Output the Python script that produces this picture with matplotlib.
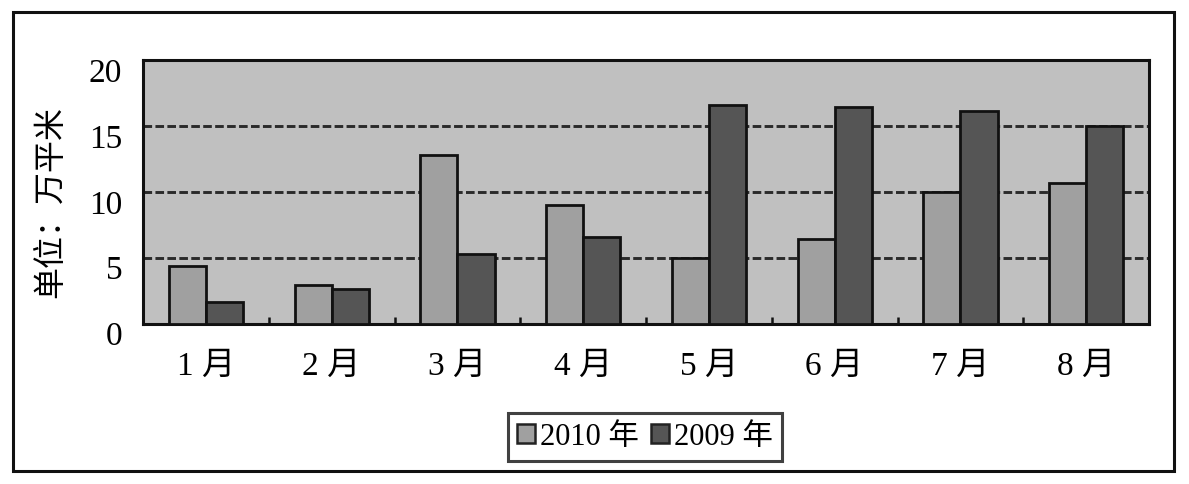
import matplotlib
matplotlib.use("Agg")
import matplotlib.pyplot as plt
import matplotlib.transforms as mtransforms
from matplotlib.patches import Patch, Rectangle
from matplotlib.font_manager import FontProperties
import numpy as np

plt.rcParams['lines.scale_dashes'] = False

months = ["1 月", "2 月", "3 月", "4 月", "5 月", "6 月", "7 月", "8 月"]
series_names = ["2010 年", "2009 年"]
values_2010 = [4.4, 2.9, 12.8, 9.0, 5.0, 6.4, 10.0, 10.7]
values_2009 = [1.6, 2.6, 5.3, 6.6, 16.6, 16.4, 16.1, 15.0]
yticks = [0, 5, 10, 15, 20]
ylabel = "单位：万平米"

c_bg = "#c0c0c0"
c_2010 = "#a0a0a0"
c_2009 = "#555555"

mixed = ['Liberation Serif', 'Noto Sans CJK SC']
fp_tick = FontProperties(family=mixed, size=24)
fp_leg = FontProperties(family=mixed, size=22)

fig = plt.figure(figsize=(11.89, 4.84), dpi=100)
ax = fig.add_axes([0.1203, 0.3316, 0.8461, 0.5444])
ax.set_facecolor(c_bg)

x = np.arange(len(months))
w = 0.295
ax.bar(x - w / 2, values_2010, width=w, color=c_2010, edgecolor="#111111", linewidth=2, zorder=3)
ax.bar(x + w / 2, values_2009, width=w, color=c_2009, edgecolor="#111111", linewidth=2, zorder=3)

for g in [5, 10, 15]:
    ax.axhline(g, color="#2a2a2a", linewidth=2.1, linestyle=(0, (6.2, 2.4)), zorder=1)

ax.set_xlim(-0.5, len(months) - 0.5)
ax.set_ylim(0, 20)
ax.set_xticks(x)
ax.set_xticklabels(months, fontproperties=fp_tick)
ax.set_xticks(np.arange(0.5, len(months) - 0.5, 1), minor=True)
ax.tick_params(axis='x', which='major', length=0, pad=20)
ax.tick_params(axis='x', which='minor', direction='in', length=5, width=1.8, color='#111111')
ax.set_yticks(yticks)
ax.set_yticklabels([str(t) for t in yticks], fontproperties=fp_tick)
ax.tick_params(axis='y', length=0, pad=15)
offset = mtransforms.ScaledTranslation(0, -10 / 100, fig.dpi_scale_trans)
for lab in ax.get_yticklabels():
    lab.set_transform(lab.get_transform() + offset)

for s in ax.spines.values():
    s.set_linewidth(2.2)
    s.set_color("#111111")

ax.set_ylabel(ylabel, fontproperties=FontProperties(family=['Noto Sans CJK SC'], size=23))
ax.yaxis.set_label_coords(-0.076, 0.46)

handles = [Patch(facecolor=c_2010, edgecolor="#222222", linewidth=1.8),
           Patch(facecolor=c_2009, edgecolor="#222222", linewidth=1.8)]
leg = fig.legend(handles, series_names, loc='center', bbox_to_anchor=(0.5425, 0.097),
                 ncol=2, prop=fp_leg, frameon=True, fancybox=False,
                 handlelength=0.6, handleheight=0.6, handletextpad=0.15,
                 columnspacing=0.4, borderpad=0.3, borderaxespad=0)
leg.get_frame().set_edgecolor("#111111")
leg.get_frame().set_linewidth(2.2)

fig.patches.append(Rectangle((0.0109, 0.0269), 0.9765, 0.9483, transform=fig.transFigure,
                             fill=False, edgecolor="#111111", linewidth=2.2))

fig.savefig("out.png", dpi=100)
